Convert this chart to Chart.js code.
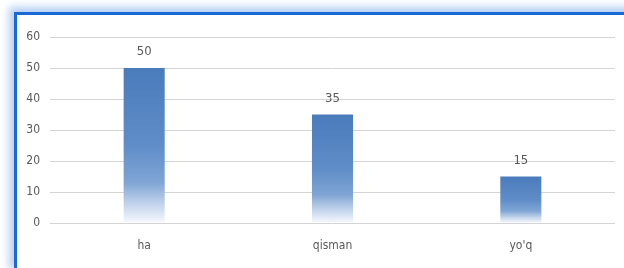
<!DOCTYPE html>
<html>
<head>
<meta charset="utf-8">
<script src="https://cdn.jsdelivr.net/npm/chart.js@4/dist/chart.umd.min.js"></script>
<style>
    html, body { margin: 0; padding: 0; background: #fff; }
    #wrap { position: relative; width: 624px; height: 268px; overflow: hidden; }
    #frame {
        position: absolute; left: 14px; top: 12px; width: 640px; height: 254px;
        border-left: 3px solid #1a6ad6; border-top: 3px solid #1a6ad6;
        border-bottom: 1px solid #dcdcdc;
        box-shadow: -3px -3px 8px 2px rgba(120, 165, 235, 0.55);
        background: #fff;
    }
    #chart { position: absolute; left: 0; top: 0; }
</style>
</head>
<body>
<div id="wrap">
    <div id="frame"></div>
    <canvas id="chart" width="624" height="268"></canvas>
</div>
<script>
const categories = ['ha', 'qisman', "yo'q"];
const values = [50, 35, 15];
const yTicks = [0, 10, 20, 30, 40, 50, 60];

const fontFamily = "'Liberation Sans Narrow', 'DejaVu Sans Condensed', 'Liberation Sans', sans-serif";

// vertical fade per bar, from its top down to the zero line
function barGradient(context) {
    const chart = context.chart;
    const y = chart.scales && chart.scales.y;
    if (!y || context.raw == null) return '#4f81bd';
    const top = y.getPixelForValue(context.raw);
    const base = y.getPixelForValue(0);
    if (!isFinite(top) || !isFinite(base) || base === top) return '#4f81bd';
    const g = chart.ctx.createLinearGradient(0, top, 0, base);
    g.addColorStop(0, '#4a7bbb');
    g.addColorStop(0.5, '#5f8dc8');
    g.addColorStop(0.74, '#80a5d5');
    g.addColorStop(0.88, '#c3d4ec');
    g.addColorStop(1, '#f7f9fd');
    return g;
}

// value labels above the bars
const valueLabels = {
    id: 'valueLabels',
    afterDatasetsDraw(chart) {
        const ctx = chart.ctx;
        const meta = chart.getDatasetMeta(0);
        ctx.save();
        ctx.font = '13px ' + fontFamily;
        ctx.fillStyle = '#595959';
        ctx.textAlign = 'center';
        ctx.textBaseline = 'alphabetic';
        meta.data.forEach((bar, i) => {
            ctx.fillText(String(values[i]), bar.x, bar.y - 13);
        });
        ctx.restore();
    }
};

new Chart(document.getElementById('chart'), {
    type: 'bar',
    data: {
        labels: categories,
        datasets: [{
            data: values,
            backgroundColor: barGradient,
            categoryPercentage: 1,
            barPercentage: 0.218
        }]
    },
    options: {
        responsive: false,
        animation: false,
        layout: { padding: { left: 14, top: 37, right: 9, bottom: 15 } },
        plugins: {
            legend: { display: false },
            tooltip: { enabled: false }
        },
        scales: {
            y: {
                min: 0,
                max: 60,
                afterFit: s => { s.width = 36; },
                afterBuildTicks: s => { s.ticks = yTicks.map(v => ({ value: v })); },
                border: { display: false },
                grid: { color: '#d4d4d4', lineWidth: 1, drawTicks: false },
                ticks: {
                    padding: 10,
                    color: '#595959',
                    font: { family: fontFamily, size: 12 }
                }
            },
            x: {
                afterFit: s => { s.height = 30; },
                border: { display: false },
                grid: { display: false, drawTicks: false },
                ticks: {
                    padding: 16,
                    color: '#595959',
                    font: { family: fontFamily, size: 12 }
                }
            }
        }
    },
    plugins: [valueLabels]
});
</script>
</body>
</html>
